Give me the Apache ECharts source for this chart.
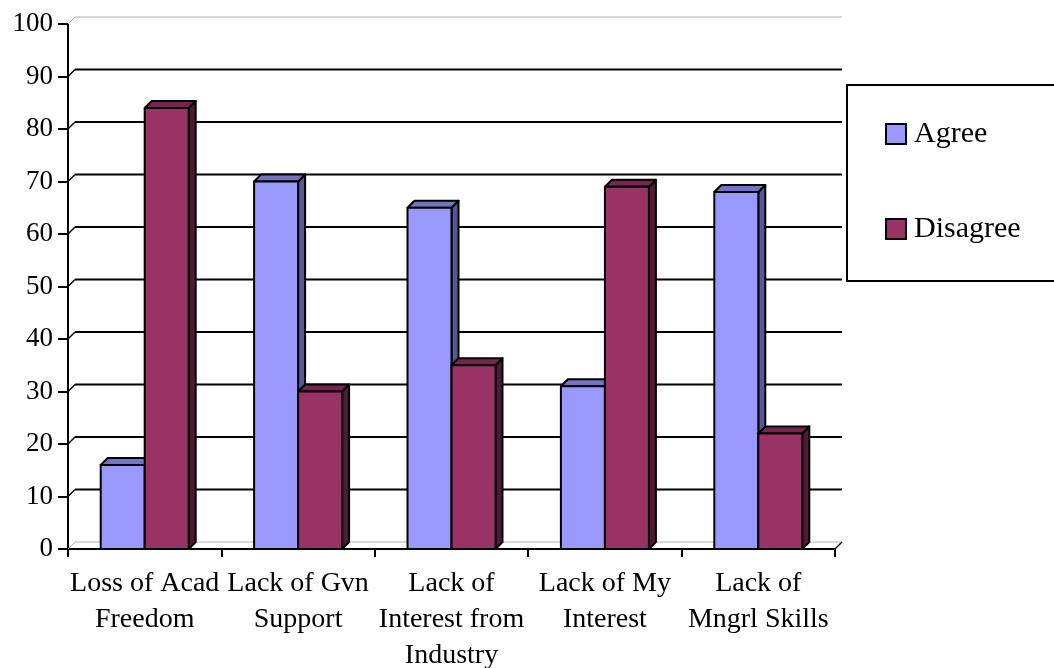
<!DOCTYPE html>
<html>
<head>
<meta charset="utf-8">
<script src="https://cdn.jsdelivr.net/npm/echarts@6/dist/echarts.min.js"></script>
<style>
  html, body { margin: 0; padding: 0; background: #fff; }
  #chart { width: 1054px; height: 668px; }
</style>
</head>
<body>
<div id="chart"></div>
<script>
// Survey responses per barrier (percent)
const categories = [
  'Loss of Acad\nFreedom',
  'Lack of Gvn\nSupport',
  'Lack of\nInterest from\nIndustry',
  'Lack of My\nInterest',
  'Lack of\nMngrl Skills'
];
const agree = [16, 70, 65, 31, 68];
const disagree = [84, 30, 35, 69, 22];
const yTicks = [0, 10, 20, 30, 40, 50, 60, 70, 80, 90, 100];

const FONT = '"Liberation Serif", "Times New Roman", serif';
const DEPTH_X = 7;   // 3D depth offset, pixels
const DEPTH_Y = 7;
const BAR_W = 44;

const palette = {
  Agree:    { front: '#9999FF', top: '#7474C0', side: '#585897' },
  Disagree: { front: '#993366', top: '#742650', side: '#4E1A34' }
};

// Back wall gridlines plus the slanted joins at the axis ticks
function renderWall(params, api) {
  const v = api.value(1);
  const cs = params.coordSys;
  const y = api.coord([0, v])[1];
  const x0 = cs.x, x1 = cs.x + cs.width;
  const edge = (v === 0 || v === 100);
  const col = edge ? '#b0b0b0' : '#000';
  const lw = edge ? 1 : 2;
  const children = [
    { type: 'line', shape: { x1: x0 + DEPTH_X, y1: y - DEPTH_Y, x2: x1 + DEPTH_X, y2: y - DEPTH_Y },
      style: { stroke: col, lineWidth: lw } },
    { type: 'line', shape: { x1: x0, y1: y, x2: x0 + DEPTH_X, y2: y - DEPTH_Y },
      style: { stroke: edge ? '#b0b0b0' : '#000', lineWidth: edge ? 1 : 1.5 } }
  ];
  if (v === 0) {
    children.push({ type: 'line', shape: { x1: x1, y1: y, x2: x1 + DEPTH_X, y2: y - DEPTH_Y },
      style: { stroke: '#000', lineWidth: 1.5 } });
  }
  return { type: 'group', children };
}

function makeBarRenderer(name, side) {
  const c = palette[name];
  return function (params, api) {
    const idx = api.value(0);
    const val = api.value(1);
    const base = api.coord([idx, 0]);
    const top = api.coord([idx, val]);
    const x0 = side === 'left' ? base[0] - BAR_W : base[0];
    const x1 = x0 + BAR_W;
    const yb = base[1], yt = top[1];
    const stroke = { stroke: '#000', lineWidth: 2, lineJoin: 'round' };
    return {
      type: 'group',
      children: [
        { type: 'polygon',
          shape: { points: [[x1, yt], [x1 + DEPTH_X, yt - DEPTH_Y], [x1 + DEPTH_X, yb - DEPTH_Y], [x1, yb]] },
          style: Object.assign({ fill: c.side }, stroke) },
        { type: 'polygon',
          shape: { points: [[x0, yt], [x0 + DEPTH_X, yt - DEPTH_Y], [x1 + DEPTH_X, yt - DEPTH_Y], [x1, yt]] },
          style: Object.assign({ fill: c.top }, stroke) },
        { type: 'rect',
          shape: { x: x0, y: yt, width: BAR_W, height: yb - yt },
          style: Object.assign({ fill: c.front }, stroke) }
      ]
    };
  };
}

const chart = echarts.init(document.getElementById('chart'), null, { renderer: 'canvas' });

chart.setOption({
  animation: false,
  backgroundColor: '#fff',
  textStyle: { fontFamily: FONT },
  grid: {
    left: 68, right: 219, top: 24, bottom: 119,
    containLabel: false,
    outerBoundsMode: 'none'
  },
  xAxis: {
    type: 'category',
    data: categories,
    axisLine: { lineStyle: { color: '#000', width: 2 } },
    axisTick: { show: true, length: 8, lineStyle: { color: '#000', width: 2 } },
    axisLabel: {
      color: '#000', fontFamily: FONT, fontSize: 28, lineHeight: 36,
      margin: 17, interval: 0
    },
    splitLine: { show: false }
  },
  yAxis: {
    type: 'value',
    min: 0, max: 100, interval: 10,
    axisLine: { show: true, lineStyle: { color: '#000', width: 2 } },
    axisTick: { show: true, length: 10, lineStyle: { color: '#000', width: 2 } },
    axisLabel: { color: '#000', fontFamily: FONT, fontSize: 27, margin: 15 },
    splitLine: { show: false }
  },
  legend: {
    data: ['Agree', 'Disagree'],
    orient: 'vertical',
    left: 880, top: 114,
    itemGap: 65,
    itemWidth: 20, itemHeight: 20,
    icon: 'rect',
    itemStyle: { borderColor: '#000', borderWidth: 2 },
    textStyle: { color: '#000', fontFamily: FONT, fontSize: 30, lineHeight: 30, padding: [0, 0, 0, 3] }
  },
  graphic: [
    { type: 'rect', left: 846, top: 84, z: 0,
      shape: { width: 220, height: 196 },
      style: { fill: '#fff', stroke: '#000', lineWidth: 2 } }
  ],
  series: [
    {
      name: 'wall', type: 'custom', silent: true, z: 1,
      renderItem: renderWall,
      encode: { x: 0, y: 1 },
      data: yTicks.map(v => [0, v])
    },
    {
      name: 'Agree', type: 'custom', z: 2,
      itemStyle: { color: palette.Agree.front },
      renderItem: makeBarRenderer('Agree', 'left'),
      encode: { x: 0, y: 1 },
      data: agree.map((v, i) => [i, v])
    },
    {
      name: 'Disagree', type: 'custom', z: 3,
      itemStyle: { color: palette.Disagree.front },
      renderItem: makeBarRenderer('Disagree', 'right'),
      encode: { x: 0, y: 1 },
      data: disagree.map((v, i) => [i, v])
    }
  ]
});
</script>
</body>
</html>
